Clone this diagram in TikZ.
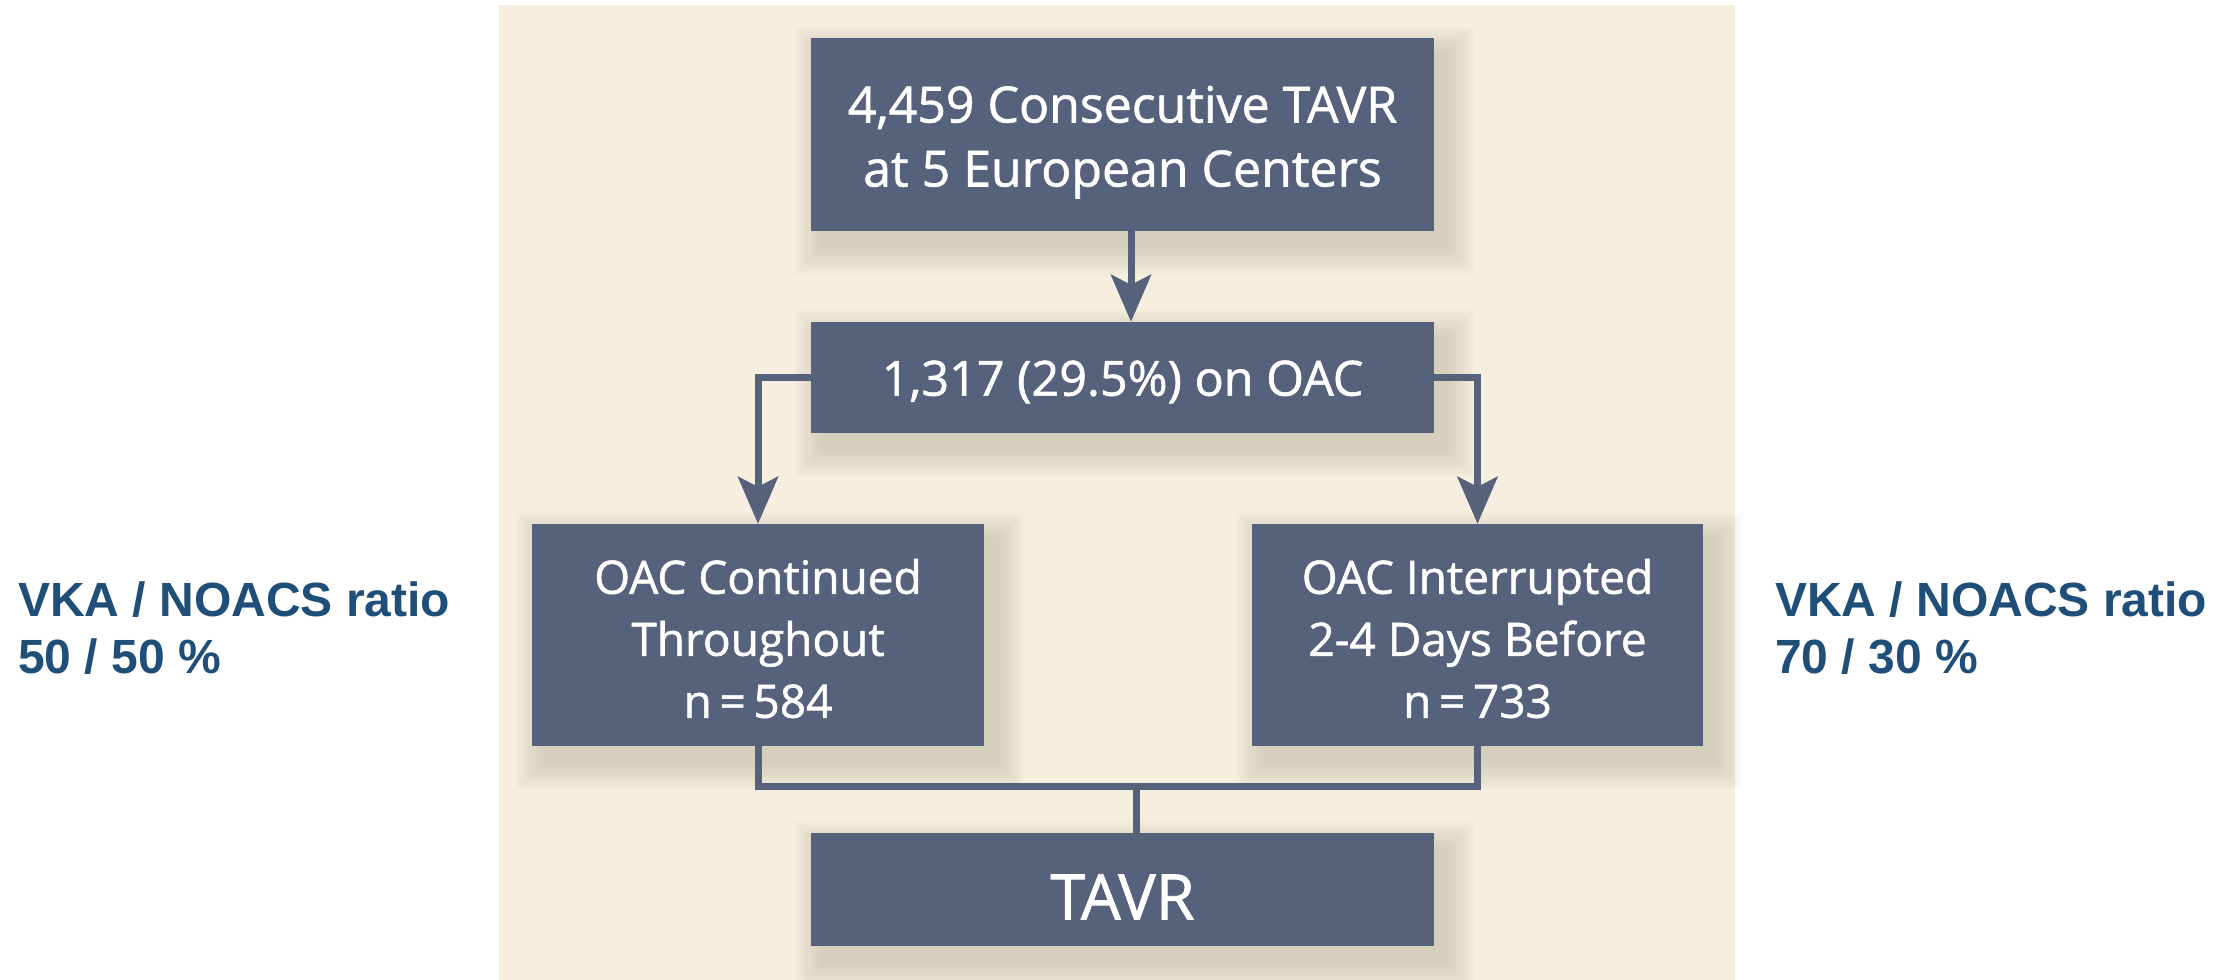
\documentclass[tikz,border=0pt]{standalone}
\usepackage{fontspec}
\setmainfont{Open Sans}[FakeBold=1.2]
\newfontfamily\labfont{Liberation Sans}
\usetikzlibrary{arrows.meta,calc}
\definecolor{boxc}{HTML}{56617B}
\definecolor{beige}{HTML}{F6EFE0}
\definecolor{labc}{HTML}{1F4E79}
\definecolor{shad}{HTML}{6E6550}
\pgfdeclarelayer{bglayer}
\pgfdeclarelayer{shadowlayer}
\pgfsetlayers{bglayer,shadowlayer,main}
\newcommand{\softshadow}[1]{%
  \begin{pgfonlayer}{shadowlayer}
    \foreach \k in {1,...,14}{
      \fill[shad, opacity=0.017] ($(#1.north west)+(12-2*\k,16-2*\k)$) rectangle ($(#1.south east)+(12+2*\k,16+2*\k)$);
    }
  \end{pgfonlayer}}
\begin{document}
\begin{tikzpicture}[x=1pt,y=-1pt,
  flowbox/.style={fill=boxc, text=white, inner sep=0pt, align=center},
  conn/.style={draw=boxc, line width=7pt},
  arr/.style={conn, -{Stealth[length=47pt,width=40pt,inset=10pt]}},
  sidelab/.style={text=labc, font=\labfont\bfseries\fontsize{48}{57}\selectfont, align=left, anchor=north west, inner sep=0pt}
]
\useasboundingbox (0,0) rectangle (2228,980);
\begin{pgfonlayer}{bglayer}
  \fill[white] (0,0) rectangle (2228,980);
  \fill[beige] (499,5) rectangle (1735,980);
\end{pgfonlayer}

\node[flowbox, minimum width=623pt, minimum height=193pt, font=\fontsize{50}{64}\selectfont] (box1) at (1122.5,134.5) {\rule{0pt}{52pt}4,459 Consecutive TAVR\\at 5 European Centers};
\node[flowbox, minimum width=623pt, minimum height=111pt, font=\fontsize{48.5}{60}\selectfont] (box2) at (1122.5,377.5) {\rule{0pt}{44pt}1,317 (29.5\%) on OAC};
\node[flowbox, minimum width=452pt, minimum height=222pt, font=\fontsize{46}{62}\selectfont] (box3) at (758,635) {\rule{0pt}{42pt}OAC Continued\\Throughout\\n\,=\,584};
\node[flowbox, minimum width=451pt, minimum height=222pt, font=\fontsize{46}{62}\selectfont] (box4) at (1477.5,635) {\rule{0pt}{42pt}OAC Interrupted\\2-4 Days Before\\n\,=\,733};
\node[flowbox, minimum width=623pt, minimum height=113pt, font=\fontsize{63}{70}\selectfont] (box5) at (1122.5,889.5) {\rule{0pt}{60pt}TAVR};

\softshadow{box1}
\softshadow{box2}
\softshadow{box3}
\softshadow{box4}
\softshadow{box5}

\draw[arr] ([xshift=8.5pt]box1.south) -- ([xshift=8.5pt]box2.north);
\draw[arr] (box2.west) -| (box3.north);
\draw[arr] (box2.east) -| (box4.north);
\coordinate (j) at (1136,786);
\draw[conn] (box3.south) |- (j) -| (box4.south);
\draw[conn] (j) -- (j |- box5.north);

\node[sidelab] (labL) at (18,582) {VKA / NOACS ratio\\50 / 50 \%};
\node[sidelab] (labR) at (1775,582) {VKA / NOACS ratio\\70 / 30 \%};
\end{tikzpicture}
\end{document}
